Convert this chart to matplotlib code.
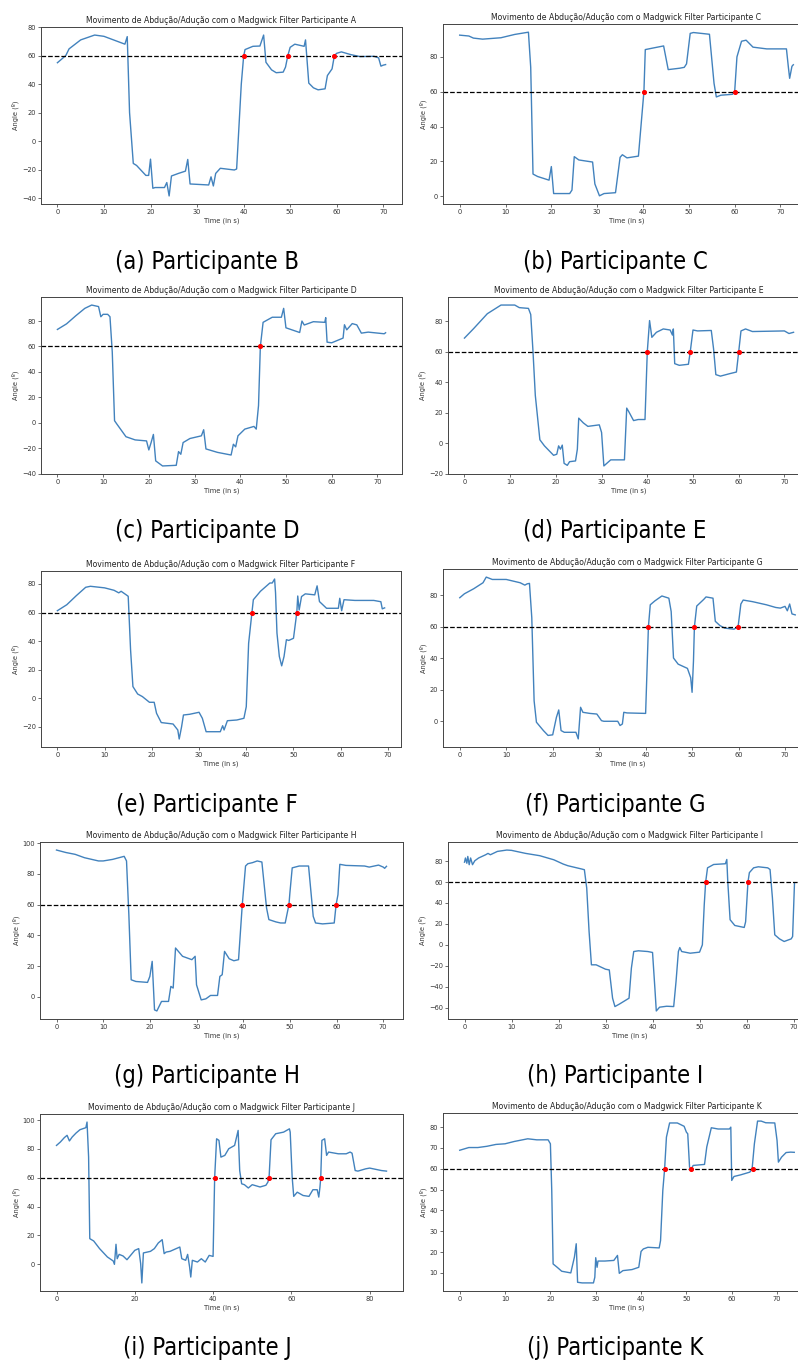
import matplotlib.pyplot as plt
from matplotlib import font_manager as fm
from matplotlib.ticker import MultipleLocator

# ---------------- data ----------------
title_base = "Movimento de Abdução/Adução com o Madgwick Filter Participante "
title_ids = ["A", "C", "D", "E", "F", "G", "H", "I", "J", "K"]
captions = ["(a) Participante B", "(b) Participante C", "(c) Participante D",
            "(d) Participante E", "(e) Participante F", "(f) Participante G",
            "(g) Participante H", "(h) Participante I", "(i) Participante J",
            "(j) Participante K"]
threshold = 60

t_a = [0, 1.8, 2.5, 5, 8, 10, 14.5, 15, 15.5, 16.3, 17, 19, 19.6, 20, 20.5, 21, 23, 23.5, 24, 24.5,
       26, 27.5, 28, 28.5, 32.5, 33, 33.5, 34, 35, 38, 38.5, 39.5, 40, 40.3, 42, 43.5, 44.3, 44.8,
       46, 47, 48.5, 49, 49.5, 50, 51, 53, 53.3, 54, 55, 56, 57.5, 58, 59, 59.5, 60, 61, 63, 65,
       68, 69, 69.5, 70, 70.5]
y_a = [55, 60, 64.7, 71, 74.4, 73.5, 68, 73.3, 20, -15.6, -17, -24, -24, -12.6, -33, -32.5, -32.5,
       -29, -38.4, -24.4, -22.6, -21, -12.8, -30, -30.7, -25, -31.4, -22.6, -19, -20.2, -19.5, 40,
       59.3, 64.2, 66.5, 66.7, 74.4, 55.3, 50, 48, 48.4, 51.9, 60, 65.8, 68, 66.5, 71, 40.7, 37.4,
       36, 36.7, 46, 50.7, 60, 61.6, 62.6, 60.7, 59.3, 59.5, 58.4, 52.6, 53.3, 53.7]
cross_a = [40, 49.5, 59.5]

t_b = [0, 2, 3, 5, 9, 12, 15, 15.5, 16, 17, 19.5, 20, 20.5, 24, 24.5, 25, 26, 29, 29.5, 30.5,
       31.5, 34, 35, 35.5, 36.5, 39, 40.2, 40.5, 42, 44.5, 45.5, 48, 49, 49.5, 50.3, 51, 54.5,
       55.5, 56, 57, 59.5, 60, 60.5, 61.5, 62.5, 64, 67, 71.3, 71.7, 72, 72.5, 72.8]
y_b = [92.5, 92, 90.8, 90.2, 91, 92.9, 94.2, 74, 12.7, 11.3, 9.2, 17, 1.5, 1.5, 3.5, 22.7, 20.8,
       19.6, 7, 0.2, 1.5, 2, 22.3, 23.8, 22, 23, 60, 84.2, 85, 86.3, 72.7, 73.5, 74, 76, 93.5, 94,
       93, 64.8, 57, 58, 58.5, 60, 80, 89, 89.6, 85.6, 84.6, 84.6, 74.6, 67.7, 74.6, 75.5]
cross_b = [40.2, 60]

t_c = [0, 2, 4, 6, 7.5, 9, 9.5, 10, 11, 11.5, 12, 12.5, 13, 15, 17, 19.5, 20, 20.5, 21, 21.5, 23,
       26, 26.5, 27, 27.5, 29, 31.5, 32, 32.5, 35, 38, 38.5, 39, 39.5, 41, 43, 43.5, 44, 44.4,
       45, 47, 49, 49.5, 50, 53, 53.5, 54, 56, 58.5, 58.7, 59, 60, 62.5, 62.8, 63.3, 64.5, 65.5,
       66.5, 68, 71.5, 71.8]
y_c = [73.4, 77.8, 84.1, 90, 92.6, 91.4, 83.4, 85.3, 85.3, 83.4, 55.7, 1.6, -1, -11, -13.5, -14.3,
       -21.4, -15.6, -9.2, -30, -34, -33.5, -22.7, -24.8, -15.6, -12.4, -10.3, -5.5, -20.6, -23.3,
       -25.4, -16.9, -19, -10.3, -5, -2.9, -5, 13.5, 60, 79, 83, 83, 90, 74.7, 71, 80, 76.9, 79.5,
       79, 82.7, 63.4, 62.9, 66.6, 77.1, 73.1, 78, 77, 70.5, 71.3, 70, 70.8]
cross_c = [44.4]

t_d = [0, 2, 5, 8, 11, 12, 14, 14.5, 15, 15.5, 16.5, 17.5, 19.5, 20.2, 20.6, 21, 21.4, 21.8, 22.5,
       23, 24.3, 24.7, 25, 26, 27, 29.5, 30, 30.5, 32, 35, 35.5, 36, 37, 38, 39.5, 40, 40.5, 41,
       42, 43.5, 45, 45.5, 45.7, 46, 47, 49, 49.4, 50, 51, 54, 54.5, 55, 56, 58, 59.5, 60, 60.5,
       61.5, 63, 70, 71, 72]
y_d = [69, 75.2, 85, 90.7, 90.7, 89, 88.5, 84.5, 60, 31.4, 2.2, -1.8, -8, -7.3, -1.8, -4, -1.3,
       -13.3, -14.6, -12.2, -11.7, -4, 16.4, 13.3, 11, 12, 7, -15, -11, -11, 23, 20.4, 14.8, 15.5,
       15.5, 60, 80.5, 69.5, 72.8, 75, 74.3, 71, 75, 52.2, 51.1, 51.8, 60, 74.3, 73.7, 74, 62, 45,
       44, 45.6, 46.7, 60, 73.7, 75, 73.3, 73.7, 72, 72.8]
cross_d = [40, 49.4, 60]

t_e = [0, 2, 4, 6, 7, 10, 12, 13, 13.5, 14.5, 15, 15.5, 16, 17, 18, 19.5, 20.5, 21, 22, 24.5,
       25.5, 25.8, 26.3, 26.7, 28, 30, 30.7, 31.5, 33, 34.5, 35, 35.3, 36, 38, 39.5, 40, 40.5,
       41.2, 41.5, 43, 45, 45.5, 46, 46.2, 46.5, 47, 47.5, 48, 48.5, 49, 50, 50.7, 50.9, 51.2,
       51.7, 52.5, 54.5, 55, 55.5, 57, 59.5, 59.8, 60.2, 60.7, 63, 67, 68.5, 68.8, 69.3]
y_e = [61.3, 65.5, 71.8, 77.7, 78.4, 77.3, 75.6, 73.8, 74.9, 72.6, 71.4, 34, 8.2, 3, 1.2, -2.8,
       -2.8, -10.5, -17, -18, -22.2, -28.5, -20, -11.7, -11.2, -9.8, -14, -23.4, -23.4, -23.4,
       -19.2, -22.2, -15.7, -15.2, -14, -5.9, 38.5, 60, 69, 74.9, 80.7, 80.7, 83.5, 73.8, 45.7,
       29.3, 22.7, 29.3, 41, 40.5, 42, 60, 71.6, 61.8, 71.2, 73.1, 72.4, 78.7, 67.7, 63, 63, 70,
       61.3, 69, 68.5, 68.5, 67.6, 62.6, 63.3]
cross_e = [41.2, 50.7]

t_f = [0, 1, 3, 5, 5.7, 7, 10, 13, 14, 14.5, 15, 15.5, 16, 16.5, 18, 19, 20, 20.8, 21.3, 21.8,
       22.5, 25, 25.5, 26, 26.5, 28, 29.5, 30, 30.5, 31, 34, 34.5, 35, 35.3, 36, 40, 40.6, 41, 42,
       43.5, 45, 45.5, 46, 47, 49, 49.7, 50, 50.3, 50.5, 51, 52.5, 53, 54.5, 55, 56, 57, 59, 59.9,
       60.5, 61, 63, 66, 68, 69, 70, 70.5, 71, 71.5, 72.2]
y_f = [78.5, 81, 84.2, 88, 91.6, 90.1, 90.1, 88, 86.5, 87.3, 87.6, 65.8, 13, -0.6, -5.9, -9,
       -8.6, 2.5, 7.2, -5.9, -7, -7, -11.2, 8.9, 5.7, 5, 4.6, 2.5, 0.4, 0, 0, -2.7, -1.7, 5.7, 5.3,
       5, 60, 74, 76.5, 79.6, 78.2, 69.7, 40.2, 36.3, 33.6, 27.7, 18.4, 38.3, 60, 73.2, 77.4, 79,
       78.2, 63.5, 60.8, 59.2, 58.5, 60, 74.5, 77, 76, 74, 72.3, 71.9, 73, 70.2, 74.5, 68.2, 67.6]
cross_f = [40.6, 50.5, 59.9]

t_g = [0, 2, 4, 6, 9, 10, 12, 14.5, 15, 15.5, 16, 17, 19.5, 20, 20.5, 21, 21.5, 22.5, 24, 24.5,
       25, 25.5, 27, 29, 29.7, 30, 31, 32, 33, 34.5, 35, 35.5, 36, 37, 38, 39, 39.8, 40.5, 41, 42,
       43, 44, 45, 45.5, 47, 48, 49, 49.5, 49.8, 50, 50.5, 52, 54, 55, 55.5, 57, 59.5, 59.9, 60.3,
       60.7, 62, 66, 67, 69, 70, 70.3, 70.7]
y_g = [95.6, 94, 92.8, 90.6, 88.5, 88.5, 89.5, 91.5, 88.5, 53.6, 11.1, 10, 9.4, 13.3, 23.1, -8.5,
       -9.2, -3, -3, 6.8, 5.7, 31.8, 26.4, 24.2, 26.4, 7.8, -2, -1.3, 0.9, 0.9, 13.3, 14.4, 29.6,
       24.8, 23.5, 24.2, 60, 85.2, 86.7, 87.4, 88.5, 87.8, 57.9, 50.3, 48.8, 48.1, 48.1, 55.6, 60,
       67.6, 84, 85.2, 85.2, 52.4, 48.1, 47.5, 48.1, 60, 66.5, 86.3, 85.6, 85.2, 84.5, 85.8, 84.5,
       83.7, 85]
cross_g = [39.8, 49.8, 59.9]

t_h = [0, 0.2, 0.5, 0.7, 1, 1.3, 1.7, 2.2, 3, 4.5, 5, 5.5, 7, 9, 10, 13, 16, 19, 21, 22, 23.5,
       25, 25.5, 26, 26.5, 27, 28, 30, 30.8, 31.5, 32, 33, 35, 35.5, 36, 37, 39, 40, 40.5, 40.8,
       41.5, 43, 44.5, 45, 45.5, 45.8, 46.2, 48, 50, 50.6, 51, 51.3, 51.7, 53, 55.5, 55.8, 56,
       56.5, 57.5, 59.5, 59.8, 60.3, 60.6, 61.5, 62.5, 64.5, 65, 65.5, 66, 67, 68, 69.5, 69.8, 70.2]
y_h = [79, 83, 78, 84.5, 76.6, 83, 76.6, 80.4, 83, 86.1, 87.4, 86.1, 89.3, 90.6, 90.3, 87.4, 85.2,
       81.3, 77.2, 75.6, 74, 72.4, 71.8, 54.3, 12.8, -19.1, -19.1, -23.3, -24, -51, -59, -56.5,
       -51, -22.3, -6.4, -5.7, -6.4, -7.3, -41.5, -63.2, -59.6, -58.7, -59, -35, -6.4, -2.6, -6.4,
       -8, -7, 0, 38.3, 60, 73.6, 76.8, 77.5, 81.6, 61, 24, 18.5, 16.6, 22, 60, 69, 73.6, 74.6,
       73.6, 72, 45, 9.6, 5.7, 3.2, 5.7, 8, 59.4]
cross_h = [51.3, 60.3]

t_i = [0, 1, 2, 2.7, 3.3, 4, 5, 6, 7.5, 7.8, 8.2, 8.5, 9.5, 11, 13, 14.5, 14.8, 15.2, 15.5, 16,
       17, 18, 20, 21, 21.5, 21.8, 22.2, 24, 25, 26, 27, 27.5, 28, 29, 31.5, 32, 33, 33.5, 34,
       34.3, 34.7, 36, 37, 38, 39, 40, 40.4, 40.9, 41.5, 42, 43, 44, 45.5, 46, 46.4, 46.8, 47.3,
       48, 49, 50, 52, 53.5, 54, 54.3, 54.8, 56, 58, 59.5, 59.7, 60.2, 60.6, 61.5, 63, 64.5, 65.5,
       66.6, 67, 67.3, 67.5, 67.8, 68.5, 69, 69.5, 72, 74, 75, 75.5, 76.3, 77, 79, 80, 83, 84.3]
y_i = [82.4, 84.8, 87.8, 89.4, 85.5, 88.2, 91, 93.3, 94.7, 98.6, 74.4, 17.8, 16.2, 10.9, 5.1, 2.3,
       0, 13.9, 3.9, 6.9, 5.8, 3.2, 9.7, 10.9, 0.5, -12.9, 7.9, 9, 10.9, 14.8, 17.1, 7.4, 8.5, 9,
       12, 3.9, 2.8, 6.9, -1.8, -8.8, 2.8, 1.6, 3.9, 1.6, 6.2, 5.5, 60, 87, 85.9, 74.3, 75.5, 80.1,
       82.4, 88.2, 92.8, 65, 55.8, 55.2, 52.9, 55.2, 53.6, 54.8, 57, 60, 86.3, 90.5, 91.6, 93.9,
       91.6, 60.5, 47.1, 50, 47.7, 47.1, 51.7, 51.7, 46.6, 53.5, 60, 85.9, 87, 75.5, 77.8, 76.6,
       76.6, 77.8, 77, 65, 64.6, 66.2, 66.7, 65, 64.6]
cross_i = [40.4, 54.3, 67.5]

t_j = [0, 2, 4, 6, 8, 10, 12, 15, 17, 19.5, 20, 20.3, 20.6, 21.5, 22.5, 24.5, 25.3, 25.7, 26, 27,
       29.5, 29.8, 30, 30.3, 30.5, 32, 34, 34.8, 35.2, 36, 38, 39.5, 40, 40.5, 41.5, 44, 44.3,
       44.8, 45.2, 45.6, 46.3, 48, 49.5, 50, 50.3, 50.7, 51, 51.5, 54, 54.5, 55.5, 57, 59.5, 59.8,
       60, 60.5, 62, 64, 64.5, 65, 65.7, 66.5, 67.5, 69.5, 70, 70.3, 71, 72, 73, 73.8]
y_j = [68.9, 70.2, 70.2, 70.8, 71.7, 72, 73.1, 74.4, 73.9, 73.9, 72, 49.6, 14.3, 12.7, 10.8, 10,
       17.6, 24, 5.5, 5.2, 5.2, 7.9, 17.3, 12.7, 15.7, 15.7, 16, 18.4, 9.8, 11.1, 11.6, 12.7, 20.3,
       21.5, 22.3, 22, 25.5, 49.6, 60, 75.2, 82, 82, 80.4, 77.6, 76.8, 60.8, 59.7, 61.6, 62.1,
       70.5, 79.7, 79.1, 79.1, 80, 54.4, 56.3, 57.1, 58.4, 60, 72, 82.9, 82.9, 82.1, 82, 73.6,
       63.2, 65.6, 67.8, 68, 67.9]
cross_j = [45.2, 51.1, 64.6]

times = [t_a, t_b, t_c, t_d, t_e, t_f, t_g, t_h, t_i, t_j]
angles = [y_a, y_b, y_c, y_d, y_e, y_f, y_g, y_h, y_i, y_j]
crossings = [cross_a, cross_b, cross_c, cross_d, cross_e, cross_f, cross_g, cross_h, cross_i, cross_j]


# ---------------- caption font: a narrow sans if one is installed ----------------
def pick_caption_font():
    cands = []
    for f in fm.fontManager.ttflist:
        tag = (f.name + ' ' + f.fname).lower()
        if ('narrow' in tag or 'condensed' in tag) and f.style == 'normal' \
                and f.weight in (400, 'normal', 'regular') and 'mono' not in tag \
                and 'serif' not in f.name.lower() and 'semi' not in tag and 'extra' not in tag:
            cands.append(f)
    order = ['liberation', 'dejavu', 'roboto', 'noto', 'open']
    cands.sort(key=lambda f: next((i for i, o in enumerate(order) if o in f.name.lower()), 9))
    if cands:
        return fm.FontProperties(fname=cands[0].fname, size=17)
    return fm.FontProperties(family='Liberation Sans', size=16)


cap_font = pick_caption_font()

# ---------------- layout (pixels) ----------------
W, H = 798, 1362
# left, top, right, bottom of each axes box
boxes = [(41, 27, 402, 204), (443, 24, 810, 204),
         (41, 297, 402, 474), (448, 297, 810, 474),
         (41, 571, 401, 747), (443, 569, 812, 747),
         (40, 842, 403, 1019), (448, 842, 811, 1019),
         (40, 1114, 403, 1291), (443, 1113, 811, 1291)]
ysteps = [20, 20, 20, 20, 20, 20, 20, 20, 20, 10]
xsteps = [10, 10, 10, 10, 10, 10, 10, 10, 20, 10]
cap_x = [207, 615]
cap_y = [262, 531, 805, 1076, 1348]

fig = plt.figure(figsize=(W / 100, H / 100), dpi=100)

for i in range(10):
    l, t, r, b = boxes[i]
    ax = fig.add_axes([l / W, 1 - b / H, (r - l) / W, (b - t) / H])
    ax.plot(times[i], angles[i], color='#4282bd', lw=1.0)
    ax.axhline(threshold, color='k', ls='--', lw=0.9)
    ax.scatter(crossings[i], [threshold] * len(crossings[i]), color='red', s=7, zorder=3)
    ax.set_title(title_base + title_ids[i], fontsize=5.6, pad=3, color='#222222')
    ax.set_xlabel('Time (in s)', fontsize=4.8, labelpad=2, color='#333333')
    ax.set_ylabel('Angle (º)', fontsize=4.8, labelpad=2, color='#333333')
    ax.xaxis.set_major_locator(MultipleLocator(xsteps[i]))
    ax.yaxis.set_major_locator(MultipleLocator(ysteps[i]))
    ax.tick_params(labelsize=4.8, length=2, width=0.5, pad=1.5, colors='#333333')
    for s in ax.spines.values():
        s.set_linewidth(0.7)
        s.set_color('#444444')

    fig.text(cap_x[i % 2] / W, 1 - cap_y[i // 2] / H, captions[i], ha='center', va='center',
             fontproperties=cap_font)

fig.savefig('out.png', dpi=100)
